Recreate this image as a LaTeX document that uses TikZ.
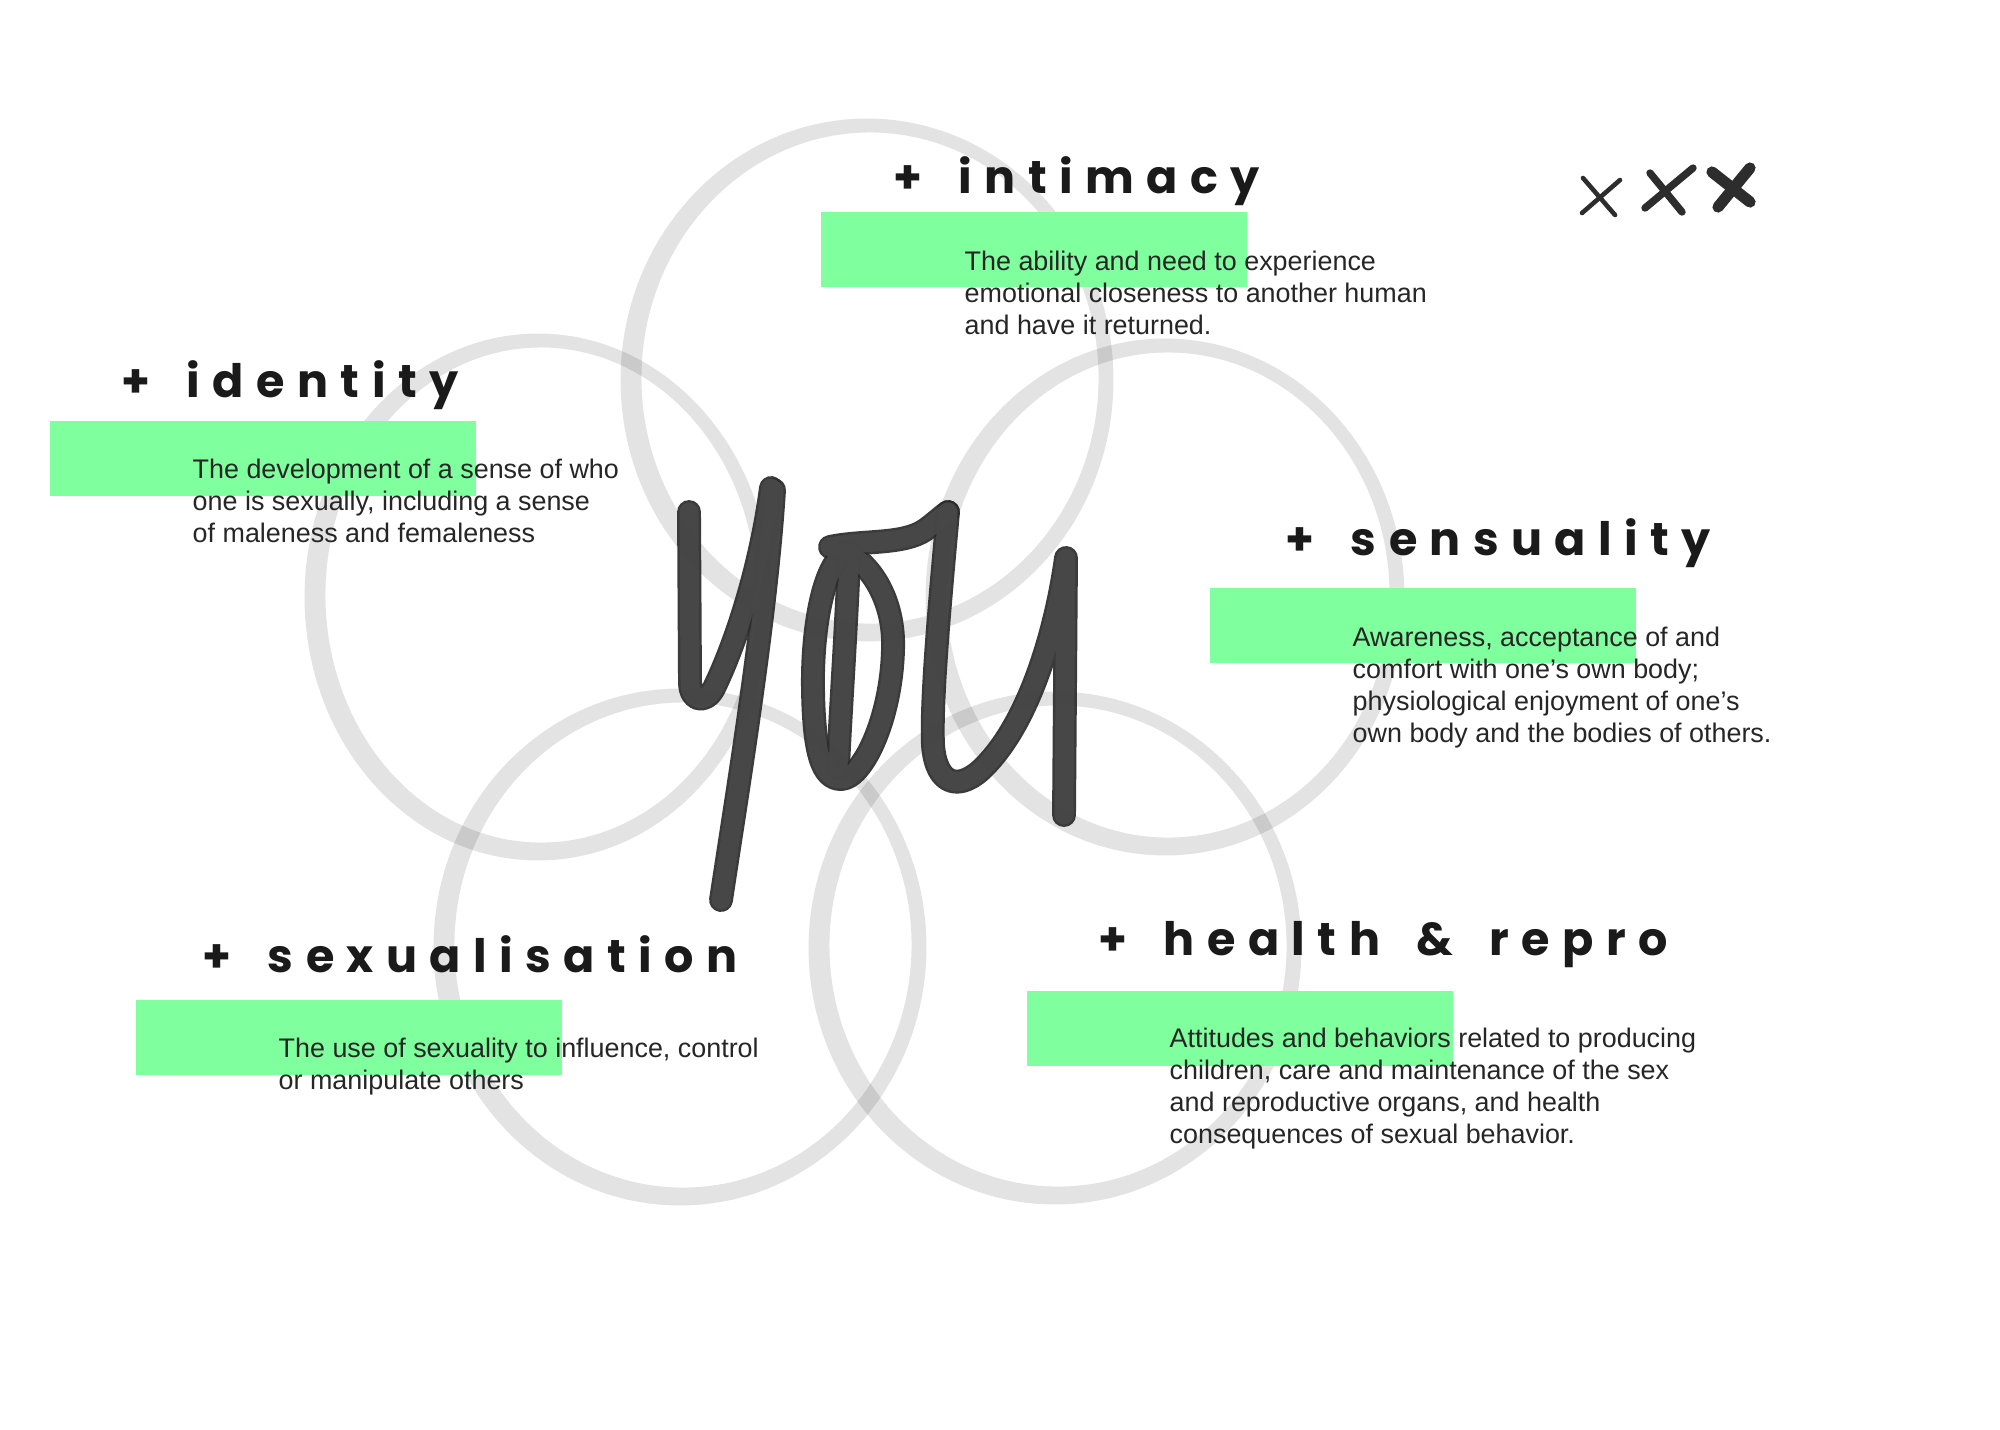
\documentclass[tikz,border=0pt]{standalone}
\usepackage{fontspec}
\setmainfont{Liberation Sans}
\newfontfamily\headfont{Poppins}[LetterSpace=27]
\definecolor{hl}{RGB}{128,255,159}
\definecolor{ink}{RGB}{26,26,26}
\definecolor{bodyink}{RGB}{38,38,38}
\definecolor{pen}{RGB}{72,72,72}
\definecolor{penedge}{RGB}{45,45,45}
\tikzset{
  ring/.style={draw=black, line width=3.1pt},
  penline/.style={draw=penedge, line width=6.8pt, line cap=round, line join=round},
  penfill/.style={draw=pen, line width=5.4pt, line cap=round, line join=round},
  head/.style={anchor=base west, inner sep=0pt, text=ink, font=\headfont\bfseries\fontsize{13.1}{15}\selectfont},
  body/.style={anchor=base west, inner sep=0pt, text=bodyink},
  hlbox/.style={fill=hl, draw=none},
  xmark/.style={draw=penedge, line cap=round}
}
\newcommand{\bodytext}[1]{\parbox[t]{7cm}{\raggedright\fontsize{7.65}{9.1}\selectfont #1}}
\newcommand{\gap}{ \hspace{4pt}}
\begin{document}
\begin{tikzpicture}[x=0.01cm, y=-0.01cm]
\useasboundingbox (0,0) rectangle (2000,1429);
\fill[white] (0,0) rectangle (2000,1429);

% sketched rings
\foreach \cx/\cy/\rx/\ry in {867/380/245/260, 538/597/232/262, 1165/597/238/257, 680/947/245/257, 1055/948/245/255}{
  \begin{scope}[transparency group, opacity=0.11]
    \draw[ring] (\cx,\cy) ellipse [x radius=\rx-4, y radius=\ry-4];
    \draw[ring] (\cx+3,\cy-2) ellipse [x radius=\rx-11, y radius=\ry-9];
  \end{scope}
}

% handwritten "you"
\begin{scope}[opacity=0.93]
\foreach \s in {penline, penfill}{
  % y
  \draw[\s] (689,512) -- (690,682) .. controls (690,702) and (706,704) .. (714,688) .. controls (735,645) and (760,570) .. (771,488);
  \draw[\s] (774,490) .. controls (766,620) and (736,800) .. (721,900);
  % o
  \draw[\s] (845,552) .. controls (820,570) and (812,640) .. (813,690) .. controls (814,752) and (822,779) .. (841,779) .. controls (862,779) and (891,720) .. (893,650) .. controls (895,600) and (870,563) .. (845,552);
  \draw[\s] (849,560) .. controls (845,650) and (840,720) .. (838,768);
  % bar
  \draw[\s] (830,547) .. controls (862,540) and (903,545) .. (925,530) .. controls (935,523) and (942,516) .. (948,512);
  % u
  \draw[\s] (948,512) .. controls (940,600) and (931,700) .. (933,745) .. controls (936,786) and (960,792) .. (985,766) .. controls (1030,720) and (1056,630) .. (1066,558) -- (1064,815);
}
\end{scope}

% highlight boxes
\fill[hlbox] (50,421) rectangle (476,496);
\fill[hlbox] (821,212) rectangle (1247,287);
\fill[hlbox] (1210,588) rectangle (1636,663);
\fill[hlbox] (136,1000) rectangle (562,1075);
\fill[hlbox] (1027,991) rectangle (1453,1066);

% headings
\node[head] (hid) at (121,397) {+\gap identity};
\node[head] (hin) at (893,193) {+\gap intimacy};
\node[head] (hse) at (1285,555) {+\gap sensuality};
\node[head] (hsx) at (202,972) {+\gap sexualisation};
\node[head] (hhr) at (1098,955) {+\gap health\gap \&\gap repro};

% body texts
\node[body] (tid) at (192,478) {\bodytext{The development of a sense of who\\one is sexually, including a sense\\of maleness and femaleness}};
\node[body] (tin) at (964,270) {\bodytext{The ability and need to experience\\emotional closeness to another human\\and have it returned.}};
\node[body] (tse) at (1352,646) {\bodytext{Awareness, acceptance of and\\comfort with one’s own body;\\physiological enjoyment of one’s\\own body and the bodies of others.}};
\node[body] (tsx) at (278,1057) {\bodytext{The use of sexuality to influence, control\\or manipulate others}};
\node[body] (thr) at (1169,1047) {\bodytext{Attitudes and behaviors related to producing\\children, care and maintenance of the sex\\and reproductive organs, and health\\consequences of sexual behavior.}};

% xxx
\draw[xmark, line width=1.3pt] (1583,178) -- (1615,215);
\draw[xmark, line width=1.3pt] (1620,180) -- (1582,213);
\draw[xmark, line width=2.1pt] (1650,173) -- (1682,212);
\draw[xmark, line width=2.1pt] (1693,168) -- (1645,208);
\draw[xmark, line width=3.2pt] (1712,172) -- (1750,202);
\draw[xmark, line width=3.2pt] (1750,168) -- (1718,207);
\end{tikzpicture}
\end{document}
